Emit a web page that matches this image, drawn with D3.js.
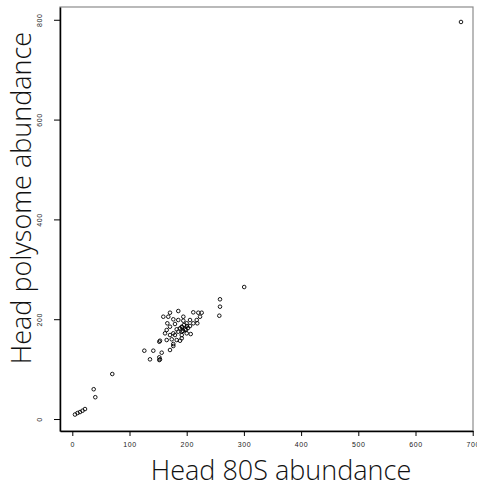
<!DOCTYPE html>
<html>
<head>
<meta charset="utf-8">
<script src="https://cdn.jsdelivr.net/npm/d3@7"></script>
<style>
  body { margin: 0; background: #fff; }
  .tick text { font-family: "Liberation Sans", Arial, sans-serif; font-size: 7px; letter-spacing: 0.6px; fill: #222; }
  .title { font-family: "Open Sans", sans-serif; font-weight: 300; font-size: 27px; fill: #111; }
</style>
</head>
<body>
<div id="chart-area"></div>
<script>
// values (80S vs polysome abundance, head)
let abund80S = [679.5, 300.5, 258.2, 258.2, 257.0,
	170.8, 185.3, 159.1, 167.8, 211.5, 220.3, 226.2, 223.3, 194.1, 176.6,
	185.3, 194.1, 205.8, 217.5, 166.1, 179.5, 200.0, 211.5, 218.5, 170.8,
	191.3, 205.8, 165.0, 182.5, 188.3, 197.0, 162.1, 176.6, 185.3, 191.3,
	200.0, 207.0, 170.8, 179.5, 191.3, 165.0, 173.8, 182.5, 188.3, 153.3,
	152.1, 176.6, 191.3, 176.6, 170.8, 156.3, 125.9, 141.6, 135.8, 152.1,
	153.3, 152.1, 191.8, 195.3, 198.8, 202.3, 193.5, 200.5,
	69.9, 37.4, 40.2, 4.7, 9.1, 13.5, 17.8, 22.2];
let abundPoly = [795.6, 264.5, 239.9, 225.1, 207.0,
	213.0, 216.4, 205.0, 205.0, 213.8, 213.0, 213.0, 205.0, 205.0, 199.8,
	198.4, 197.0, 198.4, 198.4, 191.8, 190.4, 191.8, 191.8, 191.8, 185.0,
	185.0, 186.4, 178.4, 179.8, 181.8, 179.8, 171.7, 171.7, 175.0, 175.0,
	171.7, 170.3, 168.3, 168.3, 168.3, 158.3, 159.7, 158.3, 156.9, 156.9,
	154.9, 150.3, 161.7, 146.3, 138.3, 132.9, 136.9, 136.9, 119.6, 123.6,
	119.6, 118.2, 184.0, 188.4, 178.4, 182.4, 176.4, 186.4,
	90.2, 59.7, 43.7, 9.0, 12.0, 14.0, 16.6, 20.0];

let xTicks = [0, 100, 200, 300, 400, 500, 600, 700];
let yTicks = [0, 200, 400, 600, 800];

let points = abund80S.map((v, i) => ({x: v, y: abundPoly[i]}));

let margin = {top: 7, right: 4, bottom: 57, left: 60};
let width = 477 - margin.left - margin.right;
let height = 488 - margin.top - margin.bottom;

let svg = d3.select("#chart-area").append("svg")
		.attr("width", 477)
		.attr("height", 488)
	.append("g")
		.attr("transform", "translate(" + margin.left + "," + margin.top + ")");

// Scales
let x = d3.scaleLinear()
	.domain([-21.5, 700.5])
	.range([0, width]);

let y = d3.scaleLinear()
	.domain([-24, 825.6])
	.range([height, 0]);

// plot box (top / right edges in grey)
svg.append("rect")
	.attr("width", width)
	.attr("height", height)
	.attr("fill", "none")
	.attr("stroke", "#8c8c8c")
	.attr("stroke-width", 1.2);

// Axes
let xAxis = d3.axisBottom(x)
	.tickValues(xTicks)
	.tickSize(5)
	.tickPadding(6)
	.tickSizeOuter(0);

let yAxis = d3.axisLeft(y)
	.tickValues(yTicks)
	.tickSize(6)
	.tickSizeOuter(0);

let gx = svg.append("g")
	.attr("class", "axis x-axis")
	.attr("transform", "translate(0," + height + ")")
	.call(xAxis);

let gy = svg.append("g")
	.attr("class", "axis y-axis")
	.call(yAxis);

gx.select(".domain").attr("stroke", "#000").attr("stroke-width", 1.5);
gy.select(".domain").attr("stroke", "#000").attr("stroke-width", 1.5);
svg.selectAll(".tick line").attr("stroke", "#000");

gy.selectAll(".tick text")
	.attr("transform", "rotate(-90)")
	.attr("x", 0)
	.attr("y", -20)
	.attr("dy", "0.35em")
	.attr("text-anchor", "middle");

// points
svg.selectAll(".pt")
	.data(points)
	.enter()
	.append("circle")
	.attr("class", "pt")
	.attr("cx", d => x(d.x))
	.attr("cy", d => y(d.y))
	.attr("r", 1.8)
	.attr("fill", "none")
	.attr("stroke", "#000")
	.attr("stroke-width", 0.9);

// axis titles
d3.select("svg").append("text")
	.attr("class", "title")
	.attr("x", 281)
	.attr("y", 480)
	.attr("text-anchor", "middle")
	.text("Head 80S abundance");

d3.select("svg").append("text")
	.attr("class", "title")
	.attr("transform", "translate(31,198) rotate(-90)")
	.attr("text-anchor", "middle")
	.text("Head polysome abundance");
</script>
</body>
</html>
